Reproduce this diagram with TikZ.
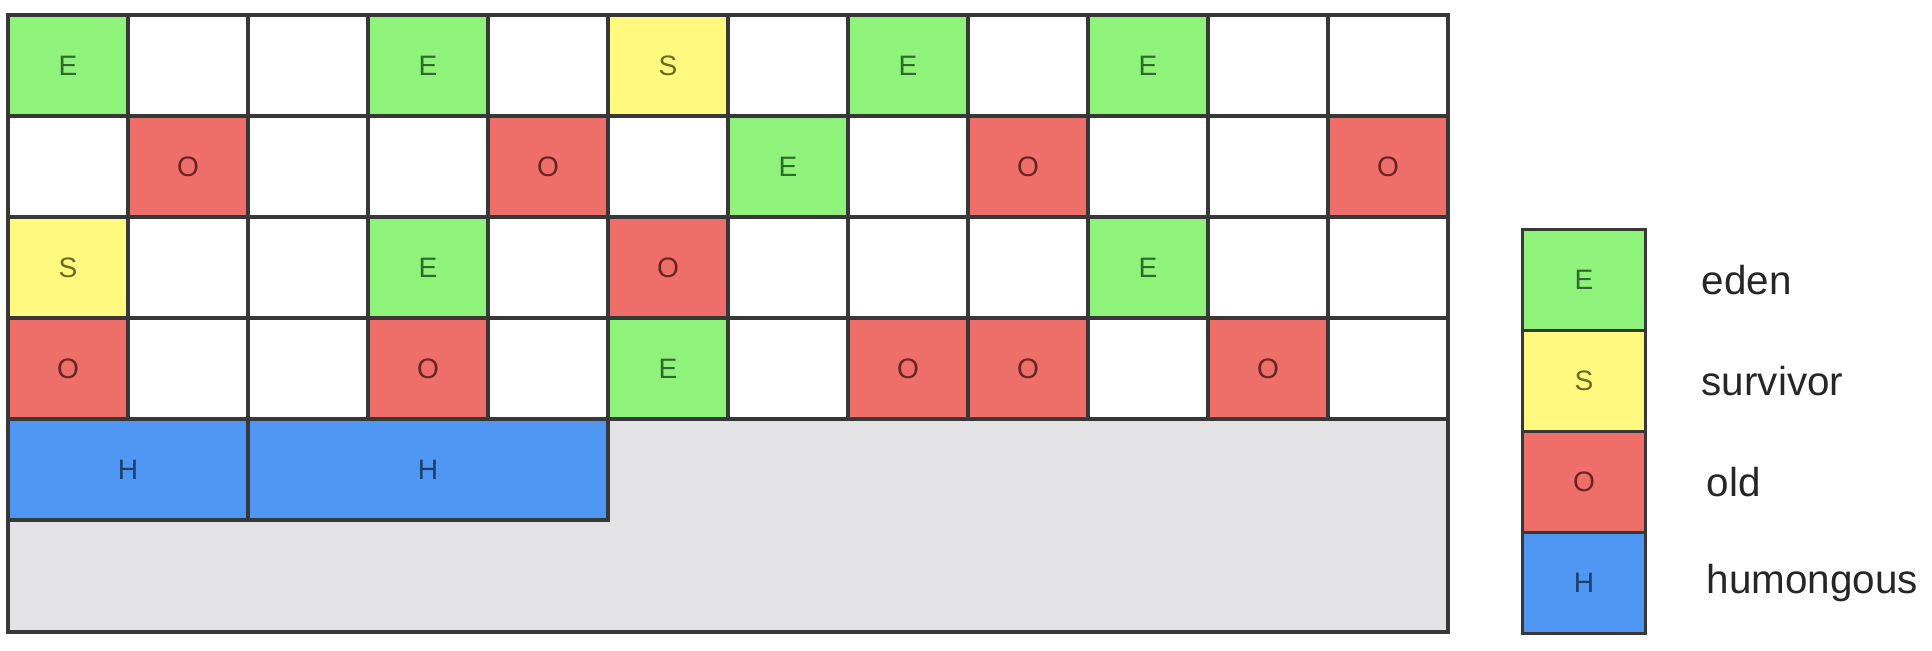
\documentclass[tikz,border=0pt]{standalone}
\usepackage{fontspec}
\setmainfont{Liberation Sans}
\usetikzlibrary{positioning}
\definecolor{edenc}{HTML}{8FF27A}
\definecolor{survc}{HTML}{FFF97F}
\definecolor{oldc}{HTML}{EE6E6A}
\definecolor{humc}{HTML}{4F97F2}
\definecolor{freec}{HTML}{E3E2E4}
\definecolor{edent}{HTML}{2E6B2A}
\definecolor{survt}{HTML}{6B6A1F}
\definecolor{oldt}{HTML}{6B2422}
\definecolor{humt}{HTML}{1E3F6E}
\definecolor{linec}{HTML}{383838}

\begin{document}
\begin{tikzpicture}[x=0.02cm,y=-0.02cm]
    \tikzstyle{cell}=[draw=linec,line width=1.8pt,minimum width=2.4cm,minimum height=2.02cm,inner sep=0pt,outer sep=0pt,font=\fontsize{16}{16}\selectfont]
    \tikzstyle{cellE}=[cell,fill=edenc,text=edent,node contents=E]
    \tikzstyle{cellS}=[cell,fill=survc,text=survt,node contents=S]
    \tikzstyle{cellO}=[cell,fill=oldc,text=oldt,node contents=O]
    \tikzstyle{cellH}=[cell,fill=humc,text=humt,node contents=H]
    \tikzstyle{celln}=[cell,fill=white,node contents={}]
    \tikzstyle{legtext}=[anchor=west,font=\fontsize{23}{23}\selectfont,text=black!85]
    \useasboundingbox (0,0) rectangle (1932,650);
    % heap area
    \draw[fill=freec,draw=linec,line width=1.8pt] (8,15) rectangle (1448,632);
    \foreach \r/\types in {1/{E,n,n,E,n,S,n,E,n,E,n,n},
                           2/{n,O,n,n,O,n,E,n,O,n,n,O},
                           3/{S,n,n,E,n,O,n,n,n,E,n,n},
                           4/{O,n,n,O,n,E,n,O,O,n,O,n}}
        \foreach \t [count=\c] in \types
            \node[cell\t,name=r\r c\c,at={({8+60+120*(\c-1)},{15+50.5+101*(\r-1)})}];
    \node[cellH,minimum width=4.8cm,name=h1,at={(128,469.5)}];
    \node[cellH,minimum width=7.2cm,name=h2,at={(428,469.5)}];
    \draw[draw=linec,line width=1.8pt] (8,15) rectangle (1448,632);
    % legend
    \node[cellE,minimum width=2.46cm,name=le,at={(1584,280)}];
    \node[cellS,minimum width=2.46cm,name=ls,below=0pt of le];
    \node[cellO,minimum width=2.46cm,name=lo,below=0pt of ls];
    \node[cellH,minimum width=2.46cm,name=lh,below=0pt of lo];
    \node[legtext,right=1.0cm of le.east] {eden};
    \node[legtext,right=1.0cm of ls.east] {survivor};
    \node[legtext,right=1.1cm of lo.east] {old};
    \node[legtext,right=1.1cm of lh.east] {humongous};
\end{tikzpicture}
\end{document}
